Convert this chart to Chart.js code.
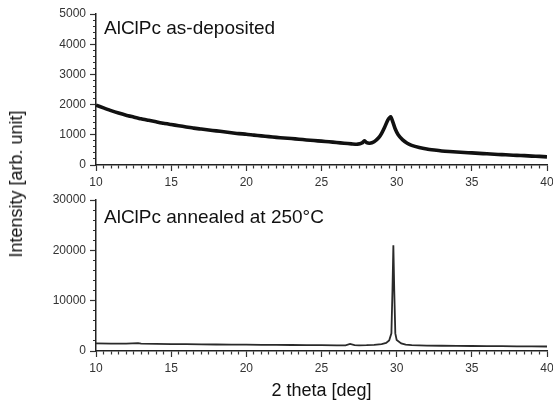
<!DOCTYPE html>
<html>
<head>
<meta charset="utf-8">
<script src="https://cdn.jsdelivr.net/npm/chart.js@4/dist/chart.umd.min.js"></script>
<style>
  html, body { margin:0; padding:0; background:#fff; overflow:hidden; width:553px; height:403px; }
  #wrap { position:relative; width:553px; height:403px; overflow:hidden; }
  canvas { position:absolute; left:0; }
  #c1 { top:0; }
  #c2 { top:186px; }
  .lbl { position:absolute; font-family:"Liberation Sans", Arial, sans-serif; color:#111; white-space:nowrap; line-height:1; }
  #ytitle { left:16px; top:184px; font-size:18px; transform:translate(-50%,-50%) rotate(-90deg); }
  #t1 { left:104px; top:18px; font-size:19px; }
  #t2 { left:104px; top:207px; font-size:19px; }
</style>
</head>
<body>
<div id="wrap">
  <canvas id="c1" width="560" height="195"></canvas>
  <canvas id="c2" width="560" height="217"></canvas>
  <div class="lbl" id="ytitle">Intensity [arb. unit]</div>
  <div class="lbl" id="t1">AlClPc as-deposited</div>
  <div class="lbl" id="t2">AlClPc annealed at 250°C</div>
</div>
<script>
// ---- data ----
const topTheta = [10,10.5,11,11.5,12,12.5,13,13.5,14,14.5,15,15.5,16,16.5,17,17.5,18,18.5,19,19.5,20,20.5,21,21.5,22,22.5,23,23.5,24,24.5,25,25.5,26,26.5,27,27.4,27.7,27.85,28.0,28.2,28.5,28.8,29.0,29.2,29.4,29.6,29.75,29.9,30.1,30.4,30.7,31,31.5,32,32.5,33,33.5,34,34.5,35,35.5,36,36.5,37,37.5,38,38.5,39,39.5,40];
const topIntensity = [1980,1890,1800,1720,1650,1590,1530,1480,1430,1380,1340,1300,1260,1220,1190,1160,1130,1100,1070,1040,1020,990,965,940,915,895,875,855,830,810,790,770,745,720,700,690,730,800,740,720,770,900,1050,1250,1480,1600,1420,1200,1000,830,720,650,580,530,495,465,445,430,415,400,385,370,355,345,330,320,310,295,285,270];

const botTheta = [10,11,12,12.8,13,14,15,16,17,18,19,20,21,22,23,24,25,26,26.6,26.9,27.2,27.5,28,28.5,29,29.3,29.5,29.65,29.72,29.78,29.84,29.91,30.0,30.3,30.6,31,32,33,34,35,36,37,38,39,40];
const botIntensity = [1500,1470,1450,1560,1460,1420,1380,1350,1320,1290,1270,1250,1230,1210,1190,1170,1150,1130,1130,1400,1150,1130,1150,1220,1350,1600,2100,3500,12000,21000,12000,3500,2200,1500,1250,1150,1080,1040,1010,990,970,950,930,910,890];

const xMajorTicks = [10,15,20,25,30,35,40];
const xMinorStep = 0.5;
const topMajorTicks = [0,1000,2000,3000,4000,5000];
const topMinorStep = 200;
const botMajorTicks = [0,10000,20000,30000];
const botMinorStep = 2000;

const FONT = "'Liberation Sans', Arial, sans-serif";
Chart.defaults.font.family = FONT;

function tickList(min, max, step) {
  const out = [];
  const n = Math.round((max - min) / step);
  for (let i = 0; i <= n; i++) out.push({ value: +(min + i * step).toFixed(6) });
  return out;
}
function isMajor(v, majors) { return majors.some(m => Math.abs(m - v) < 1e-6); }

function xScale(withTitle) {
  return {
    type: 'linear', min: 10, max: 40,
    afterBuildTicks: s => { s.ticks = tickList(10, 40, xMinorStep); },
    afterFit: s => { s.height = withTitle ? 52 : 30; },
    ticks: {
      autoSkip: false, maxRotation: 0, padding: 4,
      color: '#333', font: { size: 12 },
      callback: v => isMajor(v, xMajorTicks) ? String(v) : ''
    },
    grid: {
      drawOnChartArea: false, drawTicks: true, tickLength: 6,
      tickColor: '#333', tickWidth: 1.2,
      tickBorderDash: c => (c.tick && isMajor(c.tick.value, xMajorTicks)) ? [] : [3, 30]
    },
    border: { display: true, color: '#222', width: 1.5 },
    title: withTitle ? { display: true, text: '2 theta [deg]', color: '#111', font: { size: 18 }, padding: { top: 0, bottom: 1 } } : { display: false }
  };
}
function yScale(max, step, majors) {
  return {
    type: 'linear', min: 0, max: max,
    afterBuildTicks: s => { s.ticks = tickList(0, max, step); },
    afterFit: s => { s.width = 96; },
    ticks: {
      autoSkip: false, padding: 4,
      color: '#333', font: { size: 12 },
      callback: v => isMajor(v, majors) ? String(v) : ''
    },
    grid: {
      drawOnChartArea: false, drawTicks: true, tickLength: 6,
      tickColor: '#333', tickWidth: 1.2,
      tickBorderDash: c => (c.tick && isMajor(c.tick.value, majors)) ? [] : [0, 3, 3, 30]
    },
    border: { display: true, color: '#222', width: 1.5 }
  };
}
function pts(xs, ys) { return xs.map((x, i) => ({ x: x, y: ys[i] })); }

new Chart(document.getElementById('c1'), {
  type: 'line',
  data: { datasets: [{ data: pts(topTheta, topIntensity), borderColor: '#111', borderWidth: 3.6, pointRadius: 0, tension: 0.2, fill: false }] },
  options: {
    responsive: false, animation: false, devicePixelRatio: 1,
    layout: { padding: { top: 14, left: 0, right: 13, bottom: 0 } },
    plugins: { legend: { display: false }, tooltip: { enabled: false } },
    scales: { x: xScale(false), y: yScale(5000, topMinorStep, topMajorTicks) }
  }
});

new Chart(document.getElementById('c2'), {
  type: 'line',
  data: { datasets: [{ data: pts(botTheta, botIntensity), borderColor: '#2a2a2a', borderWidth: 1.8, pointRadius: 0, tension: 0, fill: false }] },
  options: {
    responsive: false, animation: false, devicePixelRatio: 1,
    layout: { padding: { top: 14, left: 0, right: 13, bottom: 0 } },
    plugins: { legend: { display: false }, tooltip: { enabled: false } },
    scales: { x: xScale(true), y: yScale(30000, botMinorStep, botMajorTicks) }
  }
});
</script>
</body>
</html>
